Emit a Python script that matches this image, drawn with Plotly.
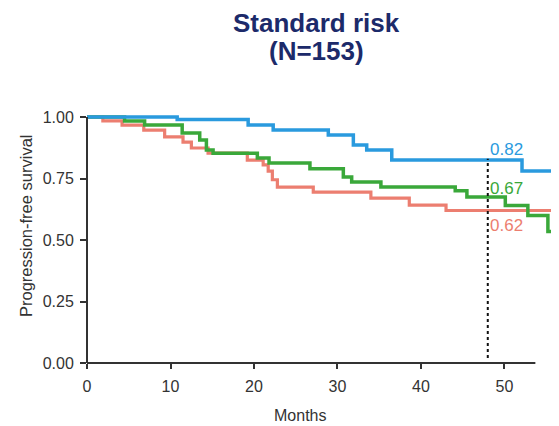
import plotly.graph_objects as go

# Kaplan-Meier step data (months, survival)
blue_t = [0, 10.8, 19.3, 22.3, 28.9, 31.9, 33.5, 36.5, 52.1, 56.6]
blue_s = [1.0, 0.99, 0.967, 0.947, 0.927, 0.886, 0.866, 0.825, 0.78, 0.78]

green_t = [0, 4.5, 6.9, 11.4, 13.5, 14.3, 15.1, 20.4, 21.8, 26.7, 30.7, 31.7, 35.2, 44.1, 45.5, 50.1, 52.8, 55.2, 56.6]
green_s = [1.0, 0.984, 0.967, 0.935, 0.906, 0.866, 0.853, 0.833, 0.813, 0.79, 0.756, 0.736, 0.715, 0.70, 0.675, 0.64, 0.60, 0.535, 0.535]

red_t = [0, 1.9, 4.2, 6.8, 9.3, 11.5, 12.5, 14.5, 19.2, 21.1, 21.7, 22.2, 22.8, 27.1, 34.0, 38.6, 43.0, 56.6]
red_s = [1.0, 0.984, 0.967, 0.947, 0.919, 0.898, 0.874, 0.853, 0.825, 0.805, 0.78, 0.745, 0.715, 0.695, 0.67, 0.642, 0.62, 0.62]

landmark_month = 48
landmark_labels = ["0.82", "0.67", "0.62"]
landmark_values = [0.82, 0.67, 0.62]

x_ticks = [0, 10, 20, 30, 40, 50]
y_ticks = [0, 0.25, 0.5, 0.75, 1.0]
y_ticktext = ["0.00", "0.25", "0.50", "0.75", "1.00"]

BLUE = "#2a9ade"
GREEN = "#3aa83a"
RED = "#ec7e70"
FONT = "Liberation Sans, Arial, sans-serif"

fig = go.Figure()
fig.add_trace(go.Scatter(x=red_t, y=red_s, mode="lines", line=dict(color=RED, width=3.2, shape="hv"), showlegend=False))
fig.add_trace(go.Scatter(x=green_t, y=green_s, mode="lines", line=dict(color=GREEN, width=3.5, shape="hv"), showlegend=False))
fig.add_trace(go.Scatter(x=blue_t, y=blue_s, mode="lines", line=dict(color=BLUE, width=3.5, shape="hv"), showlegend=False))

# The page body has an 8px margin, so the figure's origin sits at page (8, 8).
OFF = 8
W, H = 559, 426
ml, mr, mt, mb = 87 - OFF, OFF, 110 - OFF, 63 + OFF
x_max = 56.53
y_max = 253 / 246
plot_w = W - ml - mr
plot_h = H - mt - mb

def px_x(px):
    return (px - OFF - ml) / plot_w

def px_y(py):
    return (H - mb - (py - OFF)) / plot_h

# landmark dotted line
fig.add_shape(type="line", xref="x", yref="y", x0=landmark_month, x1=landmark_month, y0=0.02, y1=0.83,
              line=dict(color="#111111", width=2, dash="dot"))

# axis lines
fig.add_shape(type="line", xref="x", yref="paper", x0=-0.6, x1=53.7, y0=0, y1=0,
              line=dict(color="#333333", width=2))
fig.add_shape(type="line", xref="paper", yref="y", x0=0, x1=0, y0=0, y1=1.0,
              line=dict(color="#333333", width=2))

label_colors = [BLUE, GREEN, RED]
label_shifts = [12, 10, -15]
for txt, val, col, sh in zip(landmark_labels, landmark_values, label_colors, label_shifts):
    fig.add_annotation(x=landmark_month, y=val, xref="x", yref="y", text=txt, showarrow=False,
                       xanchor="left", yanchor="middle", xshift=0, yshift=sh,
                       font=dict(family=FONT, size=17, color=col))

# title
fig.add_annotation(x=px_x(316), y=px_y(23), xref="paper", yref="paper",
                   text="<b>Standard risk</b>", showarrow=False, xanchor="center", yanchor="middle",
                   font=dict(family=FONT, size=26, color="#1c2a6a"))
fig.add_annotation(x=px_x(316), y=px_y(51), xref="paper", yref="paper",
                   text="<b>(N=153)</b>", showarrow=False, xanchor="center", yanchor="middle",
                   font=dict(family=FONT, size=26, color="#1c2a6a"))

# axis titles
fig.add_annotation(x=px_x(300), y=px_y(415), xref="paper", yref="paper",
                   text="Months", showarrow=False, xanchor="center", yanchor="middle",
                   font=dict(family=FONT, size=16, color="#333333"))
fig.add_annotation(x=px_x(26), y=px_y(226), xref="paper", yref="paper",
                   text="Progression-free survival", showarrow=False, textangle=-90,
                   xanchor="center", yanchor="middle",
                   font=dict(family=FONT, size=16.5, color="#333333"))

fig.update_layout(
    width=W, height=H,
    margin=dict(l=ml, r=mr, t=mt, b=mb, pad=0),
    paper_bgcolor="white", plot_bgcolor="white",
    font=dict(family=FONT, color="#333333"),
    xaxis=dict(range=[0, x_max], tickvals=x_ticks, ticks="outside", ticklen=5, tickwidth=2,
               tickcolor="#333333", showgrid=False, zeroline=False, showline=False,
               ticklabelstandoff=4,
               tickfont=dict(size=16, color="#333333")),
    yaxis=dict(range=[0, y_max], tickvals=y_ticks, ticktext=y_ticktext, ticks="outside", ticklen=6,
               tickwidth=2, tickcolor="#333333", showgrid=False, zeroline=False, showline=False,
               ticklabelstandoff=3,
               tickfont=dict(size=16, color="#333333")),
)

fig.write_html("out.html")
